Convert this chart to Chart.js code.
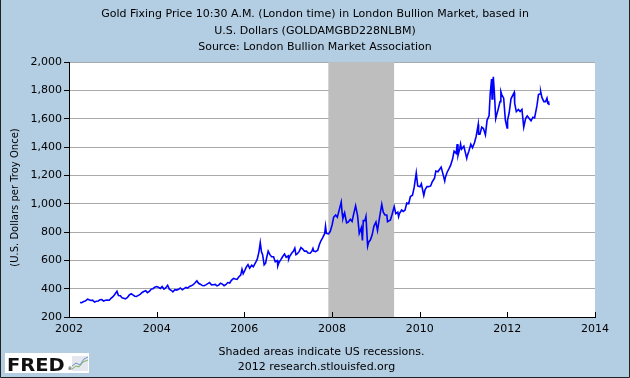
<!DOCTYPE html>
<html>
<head>
<meta charset="utf-8">
<script src="https://cdn.jsdelivr.net/npm/chart.js@4.4.1/dist/chart.umd.min.js"></script>
<style>
  html, body { margin: 0; padding: 0; background: #b3cde3; }
  canvas { display: block; }
</style>
</head>
<body>
<canvas id="c" width="630" height="378"></canvas>
<script>
// ---- data ----
const dates = [
"2002-04-01","2002-04-15","2002-05-01","2002-05-15","2002-06-03","2002-06-17","2002-07-01","2002-07-15","2002-08-01","2002-08-15","2002-09-02","2002-09-16","2002-10-01","2002-10-15","2002-11-01","2002-11-15","2002-12-02","2002-12-16",
"2003-01-02","2003-01-15","2003-02-05","2003-02-17","2003-03-03","2003-03-17","2003-04-01","2003-04-15","2003-05-01","2003-05-15","2003-06-02","2003-06-16","2003-07-01","2003-07-15","2003-08-01","2003-08-15","2003-09-02","2003-09-15","2003-10-01","2003-10-15","2003-11-03","2003-11-17","2003-12-01","2003-12-15",
"2004-01-02","2004-01-15","2004-02-02","2004-02-16","2004-03-01","2004-03-15","2004-04-01","2004-04-15","2004-05-03","2004-05-14","2004-06-01","2004-06-15","2004-07-01","2004-07-15","2004-08-02","2004-08-16","2004-09-01","2004-09-15","2004-10-01","2004-10-15","2004-11-01","2004-11-15","2004-12-01","2004-12-15",
"2005-01-03","2005-01-17","2005-02-01","2005-02-15","2005-03-01","2005-03-15","2005-04-01","2005-04-15","2005-05-02","2005-05-16","2005-06-01","2005-06-15","2005-07-01","2005-07-15","2005-08-01","2005-08-15","2005-09-01","2005-09-15","2005-10-03","2005-10-17","2005-11-01","2005-11-15","2005-12-01","2005-12-12","2005-12-22",
"2006-01-03","2006-01-16","2006-02-01","2006-02-15","2006-03-01","2006-03-15","2006-04-03","2006-04-18","2006-05-01","2006-05-12","2006-05-22","2006-06-01","2006-06-14","2006-06-26","2006-07-03","2006-07-17","2006-08-01","2006-08-15","2006-09-01","2006-09-15","2006-10-02","2006-10-06","2006-10-16","2006-11-01","2006-11-15","2006-12-01","2006-12-15",
"2007-01-02","2007-01-05","2007-01-15","2007-02-01","2007-02-15","2007-02-26","2007-03-05","2007-03-15","2007-04-02","2007-04-16","2007-05-01","2007-05-15","2007-06-01","2007-06-15","2007-07-02","2007-07-16","2007-07-25","2007-08-01","2007-08-16","2007-09-04","2007-09-17","2007-10-01","2007-10-15","2007-11-01","2007-11-08","2007-11-15","2007-12-03","2007-12-17",
"2008-01-02","2008-01-15","2008-02-01","2008-02-15","2008-03-03","2008-03-17","2008-03-25","2008-04-01","2008-04-15","2008-05-01","2008-05-15","2008-06-02","2008-06-16","2008-07-01","2008-07-15","2008-08-01","2008-08-15","2008-09-02","2008-09-11","2008-09-18","2008-10-01","2008-10-10","2008-10-24","2008-11-03","2008-11-17","2008-12-01","2008-12-15",
"2009-01-02","2009-01-15","2009-02-02","2009-02-20","2009-03-02","2009-03-16","2009-04-01","2009-04-07","2009-05-01","2009-05-15","2009-06-02","2009-06-15","2009-07-01","2009-07-08","2009-07-15","2009-08-03","2009-08-17","2009-09-01","2009-09-15","2009-10-01","2009-10-15","2009-11-02","2009-11-16","2009-12-03","2009-12-15",
"2010-01-04","2010-01-15","2010-02-05","2010-02-16","2010-03-01","2010-03-15","2010-04-01","2010-04-15","2010-05-03","2010-05-14","2010-06-01","2010-06-28","2010-07-12","2010-07-27","2010-08-02","2010-08-16","2010-09-01","2010-09-15","2010-10-01","2010-10-14","2010-11-01","2010-11-09","2010-11-16","2010-12-01","2010-12-07","2010-12-15",
"2011-01-04","2011-01-28","2011-02-01","2011-02-15","2011-03-01","2011-03-15","2011-04-01","2011-04-15","2011-05-02","2011-05-05","2011-05-16","2011-06-01","2011-06-15","2011-07-01","2011-07-15","2011-08-01","2011-08-10","2011-08-22","2011-08-26","2011-09-01","2011-09-06","2011-09-15","2011-09-26","2011-10-03","2011-10-17","2011-11-01","2011-11-08","2011-11-15","2011-12-01","2011-12-15","2011-12-29",
"2012-01-03","2012-01-16","2012-02-01","2012-02-28","2012-03-01","2012-03-15","2012-04-02","2012-04-16","2012-05-01","2012-05-16","2012-06-01","2012-06-15","2012-07-02","2012-07-16","2012-08-01","2012-08-15","2012-09-04","2012-09-17","2012-10-01","2012-10-05","2012-10-15","2012-11-01","2012-11-15","2012-11-27","2012-12-03","2012-12-10","2012-12-14"
];
const prices = [
302,301,309,312,326,321,317,319,305,311,313,322,323,313,318,319,318,332,
343,357,382,352,350,335,333,328,338,354,364,356,347,345,353,360,373,380,385,372,383,397,400,410,
415,410,402,415,397,405,424,397,387,378,393,390,395,405,392,400,409,404,416,420,428,440,455,438,
430,422,421,427,436,443,427,428,430,420,425,438,432,421,430,443,440,459,473,468,465,482,496,537,505,
525,550,570,545,565,555,583,610,660,725,660,640,568,580,613,665,640,625,625,590,598,561,585,605,625,645,622,
632,608,630,652,665,686,640,645,663,690,680,665,665,652,650,665,684,665,662,672,710,740,760,790,841,790,787,805,
850,905,920,905,965,1011,930,895,935,865,870,890,875,935,985,915,790,830,740,880,880,910,700,730,745,780,840,
870,810,905,995,940,920,920,873,885,925,980,930,940,908,930,955,945,955,1005,1000,1050,1060,1115,1218,1125,
1120,1140,1058,1100,1120,1120,1125,1155,1180,1230,1225,1258,1210,1160,1185,1220,1245,1270,1315,1370,1355,1420,1340,1390,1421,1385,
1405,1320,1335,1370,1420,1395,1430,1475,1560,1490,1490,1540,1530,1485,1590,1620,1770,1880,1740,1820,1895,1780,1600,1625,1670,1720,1790,1770,1745,1590,1535,
1590,1640,1740,1785,1710,1650,1665,1650,1665,1540,1600,1620,1600,1585,1610,1605,1690,1770,1775,1790,1750,1720,1720,1745,1710,1715,1695
];
const xTicks = [2002, 2004, 2006, 2008, 2010, 2012, 2014];
const yTicks = [200, 400, 600, 800, 1000, 1200, 1400, 1600, 1800, 2000];
const recessions = [["2007-12-01", "2009-06-01"]];
const titleLines = [
  "Gold Fixing Price 10:30 A.M. (London time) in London Bullion Market, based in",
  "U.S. Dollars (GOLDAMGBD228NLBM)",
  "Source: London Bullion Market Association"
];
const yAxisTitle = "(U.S. Dollars per Troy Once)";
const footLines = ["Shaded areas indicate US recessions.", "2012 research.stlouisfed.org"];

// ---- helpers ----
function toYear(s) {
  const p = s.split("-").map(Number);
  return p[0] + (p[1] - 1) / 12 + (p[2] - 1) / 365;
}
const FONT = "'DejaVu Sans', Verdana, sans-serif";
const BG = "#b3cde3";

const bgPlugin = {
  id: "bg",
  beforeDraw(chart) {
    const c = chart.ctx;
    c.save();
    c.fillStyle = BG;
    c.fillRect(0, 0, chart.width, chart.height);
    c.fillStyle = "#ffffff";
    const a = chart.chartArea;
    c.fillRect(a.left, a.top, a.right - a.left, a.bottom - a.top);
    c.restore();
  }
};

const recessionPlugin = {
  id: "recessions",
  beforeDatasetsDraw(chart) {
    const c = chart.ctx, xs = chart.scales.x, a = chart.chartArea;
    c.save();
    c.fillStyle = "#bebebe";
    recessions.forEach(r => {
      const x0 = xs.getPixelForValue(toYear(r[0]));
      const x1 = xs.getPixelForValue(toYear(r[1]));
      c.fillRect(x0, a.top, x1 - x0, a.bottom - a.top);
    });
    c.restore();
  },
  afterDatasetsDraw(chart) {
    const c = chart.ctx, xs = chart.scales.x, a = chart.chartArea;
    c.save();
    c.strokeStyle = "#000";
    c.lineWidth = 1;
    xTicks.forEach(v => {
      const x = Math.round(xs.getPixelForValue(v)) + 0.5;
      c.beginPath();
      c.moveTo(x, a.bottom);
      c.lineTo(x, a.bottom - 5);
      c.stroke();
    });
    c.restore();
  }
};

const framePlugin = {
  id: "frame",
  afterDraw(chart) {
    const c = chart.ctx, W = chart.width, H = chart.height, a = chart.chartArea;
    c.save();
    // y-axis title
    c.fillStyle = "#000";
    c.font = "10px " + FONT;
    c.textAlign = "center";
    c.textBaseline = "middle";
    c.save();
    c.translate(15, (a.top + a.bottom) / 2 + 8);
    c.rotate(-Math.PI / 2);
    c.fillText(yAxisTitle, 0, 0);
    c.restore();
    // footer text
    c.font = "11px " + FONT;
    c.fillText(footLines[0], 321.5, 352);
    c.fillText(footLines[1], 316.5, 367);
    // FRED logo
    c.fillStyle = "#ffffff";
    c.fillRect(5, 353, 84, 20);
    c.fillStyle = "#111";
    c.save();
    c.font = "bold 18px 'DejaVu Sans', sans-serif";
    c.textAlign = "left";
    c.textBaseline = "alphabetic";
    c.translate(7, 370.5);
    c.scale(1.08, 1);
    c.fillText("FRED", 0, 0);
    c.restore();
    c.font = "5px " + FONT;
    c.textAlign = "left";
    c.fillText("\u00AE", 67.5, 369);
    c.fillStyle = "#e4e8ee";
    c.fillRect(72, 356, 16, 15);
    c.lineWidth = 1;
    c.strokeStyle = "#7bb35a";
    c.beginPath();
    c.moveTo(72, 369); c.lineTo(76, 366); c.lineTo(79, 367); c.lineTo(83, 362); c.lineTo(88, 360);
    c.stroke();
    c.strokeStyle = "#6f8fc8";
    c.beginPath();
    c.moveTo(72, 366); c.lineTo(76, 363); c.lineTo(80, 365); c.lineTo(84, 359); c.lineTo(88, 357);
    c.stroke();
    // outer border
    c.strokeStyle = "#222";
    c.lineWidth = 1;
    c.beginPath();
    c.moveTo(0.5, 0); c.lineTo(0.5, H - 0.5); c.lineTo(W - 0.5, H - 0.5); c.lineTo(W - 0.5, 0);
    c.stroke();
    c.restore();
  }
};

new Chart(document.getElementById("c"), {
  type: "line",
  data: {
    datasets: [{
      data: dates.map((d, i) => ({ x: toYear(d), y: prices[i] })),
      borderColor: "#0000ff",
      borderWidth: 1.6,
      pointRadius: 0,
      tension: 0,
      fill: false,
      yAxisID: "y"
    }]
  },
  options: {
    responsive: false,
    animation: false,
    devicePixelRatio: 1,
    layout: { padding: { left: 0, right: 0, top: 0, bottom: 41 } },
    plugins: {
      legend: { display: false },
      tooltip: { enabled: false },
      title: {
        display: true,
        text: titleLines,
        color: "#000",
        font: { family: FONT, size: 11, weight: "normal", lineHeight: 1.5 },
        padding: { top: 6, bottom: 6.5 }
      }
    },
    scales: {
      x: {
        type: "linear",
        min: 2002,
        max: 2014,
        afterBuildTicks(s) { s.ticks = xTicks.map(v => ({ value: v })); },
        afterFit(s) { s.height = 20; },
        ticks: {
          color: "#000",
          font: { family: FONT, size: 11 },
          padding: 6,
          maxRotation: 0,
          autoSkip: false,
          callback: v => String(v)
        },
        grid: { drawOnChartArea: false, drawTicks: false },
        border: { display: true, color: "#000", width: 1 }
      },
      y: {
        min: 200,
        max: 2000,
        afterBuildTicks(s) { s.ticks = yTicks.map(v => ({ value: v })); },
        afterFit(s) { s.width = 69; },
        ticks: {
          color: "#000",
          font: { family: FONT, size: 11 },
          padding: 2,
          callback: v => v.toLocaleString("en-US")
        },
        grid: { color: "#aaaaaa", tickColor: "#000", tickLength: 5, lineWidth: 1 },
        border: { display: true, color: "#000", width: 1 }
      },
      yR: {
        position: "right",
        display: true,
        min: 200,
        max: 2000,
        afterFit(s) { s.width = 35; },
        ticks: { display: false },
        grid: { display: false, drawTicks: false },
        border: { display: false }
      }
    }
  },
  plugins: [bgPlugin, recessionPlugin, framePlugin]
});
</script>
</body>
</html>
